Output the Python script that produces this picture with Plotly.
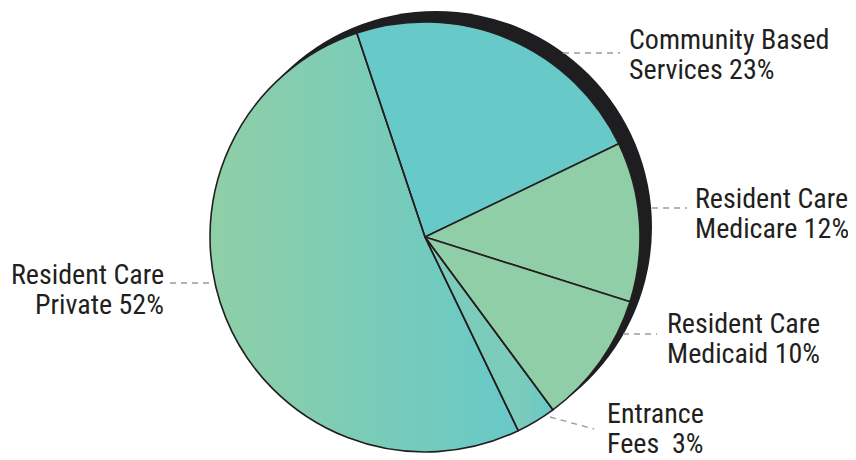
import numpy as np
import plotly.graph_objects as go

# ---------------- data ----------------
categories = ["Community Based Services", "Resident Care Medicare",
              "Resident Care Medicaid", "Entrance Fees", "Resident Care Private"]
shares = [23, 12, 10, 3, 52]
label_line1 = ["Community Based", "Resident Care", "Resident Care", "Entrance", "Resident Care"]
label_line2 = ["Services 23%", "Medicare 12%", "Medicaid 10%", "Fees\u00a0 3%", "Private 52%"]

# ---------------- styling / geometry ----------------
PAGE_OFF = 8                       # default body margin of the page
W, H = 856 - PAGE_OFF, 460 - PAGE_OFF
CX, CY, R = 425, 237, 215          # pie centre / radius in window px
START = -18.5                      # first slice start angle (deg, clockwise from 12 o'clock)
SHADOW_DX, SHADOW_DY, SHADOW_R = 11, -10, 216

flat_colors = ["#67C9C8", "#8FCEA7", "#8FCEA7", "rgba(0,0,0,0)", "rgba(0,0,0,0)"]
gradients = {3: ("#7BCCBA", "#67C9C7"), 4: ("#8FCFA6", "#67C9C8")}
EDGE = "#231F20"
TEXT = "#231F20"
FONT = "Liberation Sans Narrow, Roboto Condensed, Arial Narrow, Roboto, sans-serif"
FS = 28

# label placement (window px): anchor x, xanchor, y of line1, y of line2
label_pos = [
    (627, "left", 39, 69),
    (693, "left", 198, 228),
    (665, "left", 323, 353),
    (605, "left", 413, 443),
    (166, "right", 274, 304),
]
# leader lines (window px)
leaders = [
    ((563, 53), (620, 53)),
    ((652, 208), (687, 208)),
    ((623, 334), (657, 334)),
    ((550, 417), (594, 429)),
    ((170, 283), (210, 283)),
]

fig = go.Figure()

# gradient underlays for slices with horizontal gradient fills
total = float(sum(shares))
cum = np.concatenate([[0], np.cumsum(shares)]) / total * 360.0 + START
for i, (c0, c1) in gradients.items():
    a = np.radians(np.linspace(cum[i], cum[i + 1], 200))
    xs = np.concatenate([[CX], CX + R * np.sin(a), [CX]])
    ys = np.concatenate([[CY], CY - R * np.cos(a), [CY]])
    fg = dict(type="horizontal", colorscale=[[0, c0], [1, c1]])
    if i == 3:
        fg.update(start=float(min(xs[1], xs[-2])), stop=float(max(xs[1:-1])))
    fig.add_trace(go.Scatter(x=xs, y=ys, mode="lines", fill="toself",
                             fillgradient=fg, line=dict(width=0),
                             hoverinfo="skip", showlegend=False))

# pie itself
fig.add_trace(go.Pie(
    labels=categories, values=shares, sort=False, direction="clockwise",
    rotation=START, textinfo="none", hoverinfo="label+percent",
    marker=dict(colors=flat_colors, line=dict(color=EDGE, width=1.6)),
    domain=dict(x=[(CX - R - PAGE_OFF) / W, (CX + R - PAGE_OFF) / W],
                y=[1 - (CY + R - PAGE_OFF) / H, 1 - (CY - R - PAGE_OFF) / H]),
    showlegend=False,
))

shapes = [dict(type="circle", xref="x", yref="y", layer="below",
               x0=CX + SHADOW_DX - SHADOW_R, x1=CX + SHADOW_DX + SHADOW_R,
               y0=CY + SHADOW_DY - SHADOW_R, y1=CY + SHADOW_DY + SHADOW_R,
               fillcolor="#1E1E20", line=dict(width=0))]
for (x0, y0), (x1, y1) in leaders:
    shapes.append(dict(type="line", xref="x", yref="y", x0=x0, y0=y0, x1=x1, y1=y1,
                       line=dict(color="#9A9A9A", width=1.3, dash="6px,5px")))

annotations = []
for (x, xa, y1, y2), l1, l2 in zip(label_pos, label_line1, label_line2):
    for y, t in ((y1, l1), (y2, l2)):
        annotations.append(dict(x=x, y=y, xref="x", yref="y", text=t, showarrow=False,
                                xanchor=xa, yanchor="middle",
                                font=dict(family=FONT, size=FS, color=TEXT)))

fig.update_layout(
    width=W, height=H, autosize=False,
    margin=dict(l=0, r=0, t=0, b=0),
    paper_bgcolor="white", plot_bgcolor="white",
    xaxis=dict(range=[PAGE_OFF, PAGE_OFF + W], visible=False, fixedrange=True),
    yaxis=dict(range=[PAGE_OFF + H, PAGE_OFF], visible=False, fixedrange=True),
    shapes=shapes, annotations=annotations,
)

fig.write_html("out.html")
